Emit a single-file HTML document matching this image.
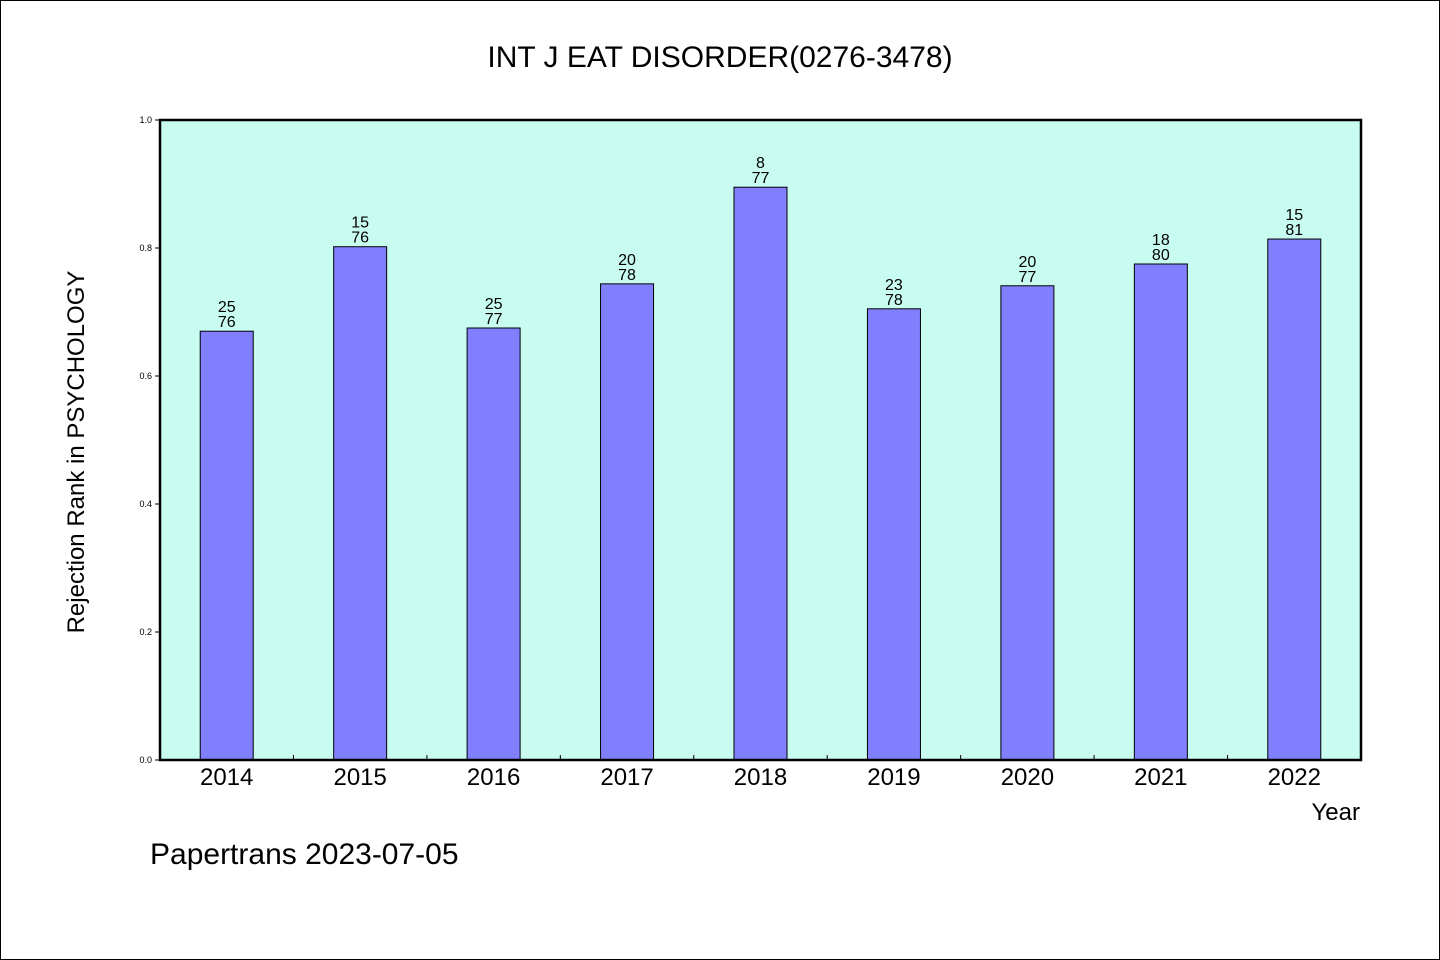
<!DOCTYPE html>
<html><head><meta charset="utf-8"><style>
html,body{margin:0;padding:0;background:#fff}
svg{display:block}
text{font-family:"WenQuanYi Zen Hei","Liberation Sans",sans-serif;fill:#000}
</style></head><body>
<svg id="chart" width="1440" height="960" xmlns="http://www.w3.org/2000/svg">
<rect x="0.5" y="0.5" width="1439" height="959" fill="#fff" stroke="#000"/>
<text x="720" y="67" font-size="30" text-anchor="middle">INT J EAT DISORDER(0276-3478)</text>
<rect x="160" y="120" width="1201" height="640" fill="#c8fcf0"/>
<g id="bars"></g>
<g id="axes"></g>
<rect x="160" y="120" width="1201" height="640" fill="none" stroke="#000" stroke-width="2.5"/>
<text transform="translate(84,452) rotate(-90)" font-size="24" text-anchor="middle">Rejection Rank in PSYCHOLOGY</text>
<text x="1360" y="820" font-size="24" text-anchor="end">Year</text>
<text x="150" y="864" font-size="30">Papertrans 2023-07-05</text>
</svg>
<script>
const categories=["2014","2015","2016","2017","2018","2019","2020","2021","2022"];
const values=[0.670,0.802,0.675,0.744,0.895,0.705,0.741,0.775,0.814];
const topLabels=["25","15","25","20","8","23","20","18","15"];
const bottomLabels=["76","76","77","78","77","78","77","80","81"];
const yTicks=[0,0.2,0.4,0.6,0.8,1.0];
const yTickLabels=["0.0","0.2","0.4","0.6","0.8","1.0"];

const NS="http://www.w3.org/2000/svg";
const L=160,R=1361,T=120,B=760;
const band=(R-L)/categories.length;
const x=i=>L+band*(i+0.5);
const y=v=>B-(B-T)*v;
const bw=53;
function mk(tag,attrs,parent,txt){const e=document.createElementNS(NS,tag);for(const k in attrs)e.setAttribute(k,attrs[k]);if(txt!=null)e.textContent=txt;parent.appendChild(e);return e;}
const bars=document.getElementById('bars'),axes=document.getElementById('axes');
categories.forEach((c,i)=>{
  const b=mk('rect',{x:x(i)-bw/2,y:y(values[i]),width:bw,height:B-y(values[i]),fill:'#8080ff',stroke:'#000','stroke-width':1},bars);
  
  
  const t1=mk('text',{x:x(i),y:y(values[i])-19,'font-size':16,'text-anchor':'middle'},bars,topLabels[i]);
  
  
  const t2=mk('text',{x:x(i),y:y(values[i])-4,'font-size':16,'text-anchor':'middle'},bars,bottomLabels[i]);
  
  
  const xl=mk('text',{x:x(i),y:785,'font-size':24,'text-anchor':'middle'},axes,c);
  
  
  if(i>0){const tk=mk('line',{x1:L+band*i,x2:L+band*i,y1:B,y2:B-5,stroke:'#000'},axes);
  
  }
});
yTicks.forEach((v,i)=>{
  const tk=mk('line',{x1:L-5,x2:L,y1:y(v),y2:y(v),stroke:'#000'},axes);
  
  
  const tl=mk('text',{x:L-8,y:y(v)+3,'font-size':9,'text-anchor':'end'},axes,yTickLabels[i]);
  
  
});
</script>
</body></html>
